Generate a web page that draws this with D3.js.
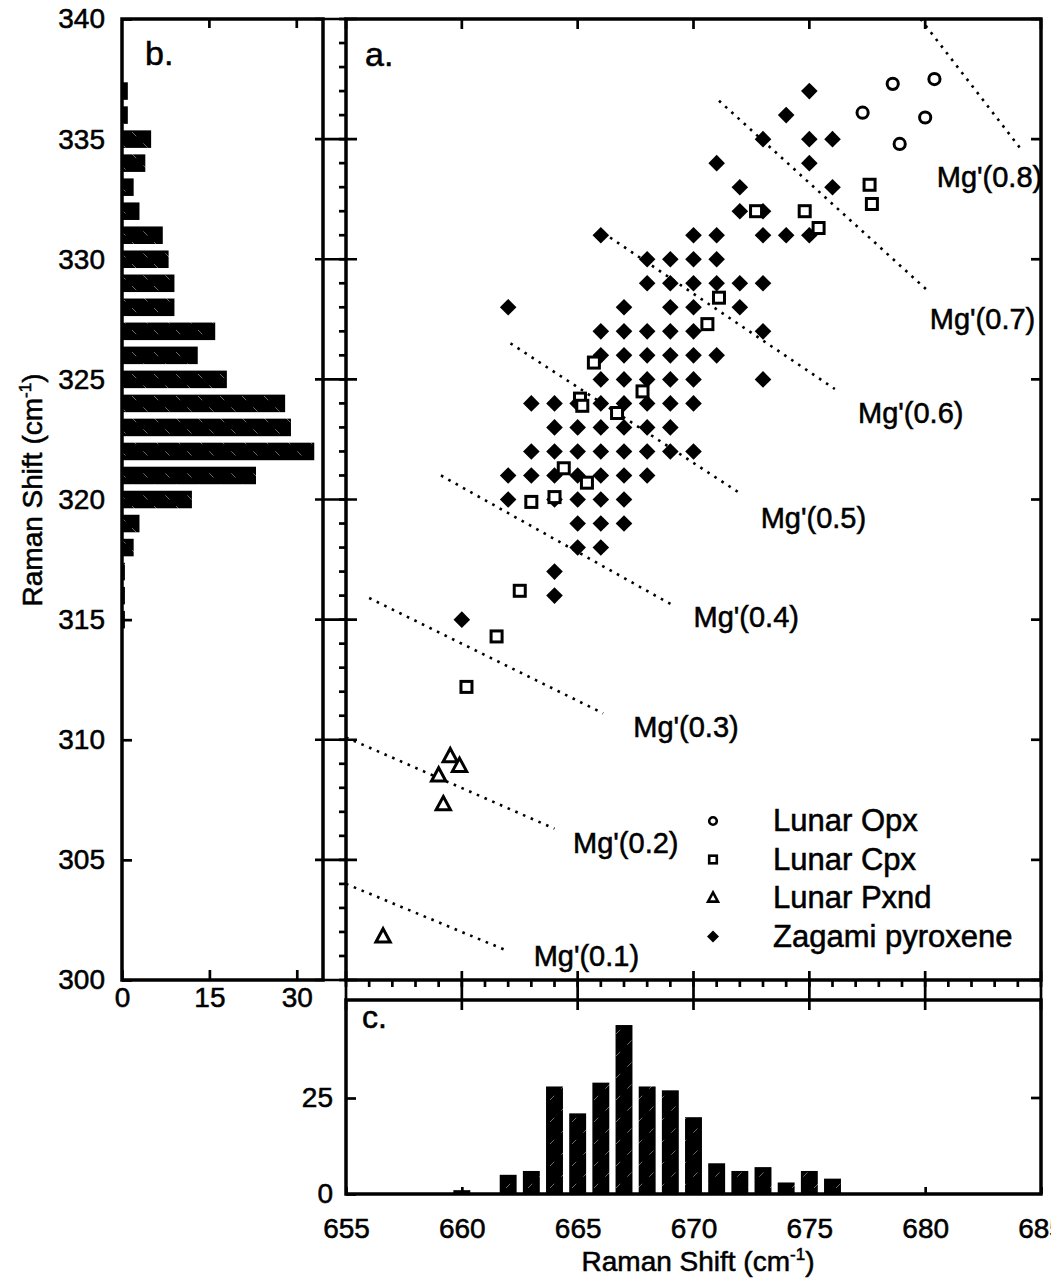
<!DOCTYPE html>
<html>
<head>
<meta charset="utf-8">
<script src="https://cdn.jsdelivr.net/npm/d3@7"></script>
<style>
  body { margin: 0; background: #fff; }
  svg { display: block; }
  text { stroke: #000; stroke-width: 0.55px; }
</style>
</head>
<body>
<div id="chart"></div>
<script>
// Zagami pyroxene grid: one entry per 320-band value, with the 670-band values found at it
const zagamiY = [315, 316, 317, 318, 319, 320, 321, 322, 323, 324, 325, 326,
                 327, 328, 329, 330, 331, 332, 333, 334, 335, 336, 337];
const zagamiX = [
  [660], [664], [664], [665, 666], [665, 666, 667],
  [662, 664, 665, 666, 667],
  [662, 663, 664, 665, 666, 667, 668],
  [663, 664, 665, 666, 667, 668, 669, 670],
  [664, 665, 666, 667, 668, 669],
  [663, 664, 665, 666, 667, 668, 669, 670],
  [666, 667, 668, 669, 670, 673],
  [666, 667, 668, 669, 670, 671],
  [666, 667, 668, 669, 670, 673],
  [662, 667, 669, 670, 672],
  [668, 669, 670, 671, 672, 673],
  [668, 669, 670, 671],
  [666, 670, 671, 673, 674, 675],
  [672, 673], [672, 676], [671, 675], [673, 675, 676], [674], [675]
];

const opxX = [678.6, 680.4, 677.3, 680.0, 678.9];
const opxY = [337.3, 337.5, 336.1, 335.9, 334.8];

const cpxX = [677.6, 677.7, 672.7, 674.8, 675.4, 671.1, 670.6, 665.7, 665.1, 665.2,
              667.8, 666.7, 664.4, 665.4, 663.0, 664.0, 662.5, 661.5, 660.2];
const cpxY = [333.1, 332.3, 332.0, 332.0, 331.3, 328.4, 327.3, 325.7, 324.2, 323.9,
              324.5, 323.6, 321.3, 320.7, 319.9, 320.1, 316.2, 314.3, 312.2];

const pxndX = [659.5, 659.9, 659.0, 659.2, 656.6];
const pxndY = [309.3, 308.9, 308.5, 307.3, 301.8];

// histogram b (320 band) and c (670 band)
const histBShift = [315, 316, 317, 318, 319, 320, 321, 322, 323, 324, 325, 326,
                    327, 328, 329, 330, 331, 332, 333, 334, 335, 336, 337];
const histBCount = [0.5, 0.5, 0.5, 2, 3, 12, 23, 33, 29, 28, 18, 13,
                    16, 9, 9, 8, 7, 3, 2, 4, 5, 1, 1];
const histCShift = [660, 662, 663, 664, 665, 666, 667, 668, 669, 670, 671, 672, 673, 674, 675, 676];
const histCCount = [1, 5, 6, 28, 21, 29, 44, 28, 27, 20, 8, 6, 7, 3, 6, 4];

// Mg' iso-lines
const mgLabels = ["Mg'(0.1)", "Mg'(0.2)", "Mg'(0.3)", "Mg'(0.4)", "Mg'(0.5)", "Mg'(0.6)", "Mg'(0.7)", "Mg'(0.8)"];
const mgStart = [[655.0, 304.0], [655.0, 310.1], [656.0, 315.9], [659.1, 321.0],
                 [662.1, 326.5], [666.1, 331.1], [671.1, 336.6], [679.8, 340.0]];
const mgEnd = [[662.0, 301.2], [664.0, 306.3], [666.1, 311.1], [669.1, 315.6],
               [672.1, 320.2], [676.1, 324.6], [680.1, 328.7], [684.2, 334.5]];
const mgLabelAt = [[663.1, 300.6], [664.8, 305.3], [667.4, 310.1], [670.0, 314.7],
                   [672.9, 318.8], [677.1, 323.2], [680.2, 327.1], [680.5, 333.0]];

const legendNames = ["Lunar Opx", "Lunar Cpx", "Lunar Pxnd", "Zagami pyroxene"];

const xMajor = d3.range(655, 686, 5);
const xMinor = d3.range(655, 686, 1);
const yMajor = d3.range(300, 341, 5);
const yMinor = d3.range(300, 341, 1);
const bTicks = [0, 15, 30];
const cTicks = [0, 25];

const FONT = "'Liberation Sans', Arial, Helvetica, sans-serif";
const W = 1051, H = 1279;

const main = {left: 346, right: 1041, top: 19, bottom: 980};
const panelB = {left: 122, right: 323};
const panelC = {top: 1000, bottom: 1194};

const x = d3.scaleLinear().domain([655, 685]).range([main.left, main.right]);
const y = d3.scaleLinear().domain([300, 340]).range([main.bottom, main.top]);
const xb = d3.scaleLinear().domain([0, 34.5]).range([panelB.left, panelB.right]);
const yc = d3.scaleLinear().domain([0, 50]).range([panelC.bottom, panelC.top + 2]);

const svg = d3.select("#chart").append("svg")
  .attr("width", W).attr("height", H)
  .attr("font-family", FONT);

const defs = svg.append("defs");
function hatch(id, dir) {
  const p = defs.append("pattern").attr("id", id)
    .attr("patternUnits", "userSpaceOnUse").attr("width", 22).attr("height", 22);
  p.append("rect").attr("width", 22).attr("height", 22).attr("fill", "#000");
  p.append("line")
    .attr("x1", 0).attr("y1", dir > 0 ? 22 : 0).attr("x2", 22).attr("y2", dir > 0 ? 0 : 22)
    .attr("stroke", "#fff").attr("stroke-width", 0.6).attr("stroke-dasharray", "6,10").attr("opacity", 0.7);
}
hatch("hatchB", -1);
hatch("hatchC", 1);

const tickW = 2.7;
function tickLine(x1, y1, x2, y2) {
  svg.append("line").attr("x1", x1).attr("y1", y1).attr("x2", x2).attr("y2", y2)
    .attr("stroke", "#000").attr("stroke-width", tickW);
}

function styleAxis(g, size) {
  g.select(".domain").remove();
  g.selectAll(".tick line").attr("stroke", "#000").attr("stroke-width", tickW);
  g.selectAll(".tick text").attr("fill", "#000").attr("font-size", size).attr("font-family", FONT);
}

// ---------- panel b: histogram of 320 band ----------
const bandB = 0.73;
svg.append("g").selectAll("rect")
  .data(histBShift.map((s, i) => ({s, c: histBCount[i]})))
  .enter().append("rect")
  .attr("x", xb(0))
  .attr("y", d => y(d.s + bandB / 2))
  .attr("width", d => xb(d.c) - xb(0))
  .attr("height", d => y(d.s - bandB / 2) - y(d.s + bandB / 2))
  .attr("fill", "url(#hatchB)");

svg.append("g")
  .attr("transform", `translate(${panelB.left},0)`)
  .call(d3.axisLeft(y).tickValues(yMajor).tickSize(-10).tickPadding(17).tickFormat(d3.format("d")))
  .call(g => styleAxis(g, 28));

svg.append("g")
  .attr("transform", `translate(0,${main.bottom})`)
  .call(d3.axisBottom(xb).tickValues(bTicks).tickSize(-10).tickPadding(7))
  .call(g => styleAxis(g, 28));

bTicks.filter(d => d > 0).forEach(d => tickLine(xb(d), main.top, xb(d), main.top + 9));

svg.append("rect")
  .attr("x", panelB.left).attr("y", main.top)
  .attr("width", panelB.right - panelB.left).attr("height", main.bottom - main.top)
  .attr("fill", "none").attr("stroke", "#000").attr("stroke-width", 3.5);

svg.append("text").attr("x", 145).attr("y", 65).attr("font-size", 34).text("b.");

// ---------- panel a: scatter ----------
yMinor.forEach(d => tickLine(main.left - 7, y(d), main.left, y(d)));
yMajor.forEach(d => tickLine(main.left - 31, y(d), main.left + 11, y(d)));
yMajor.forEach(d => tickLine(main.right - 10, y(d), main.right, y(d)));
xMinor.forEach(d => tickLine(x(d), main.bottom, x(d), main.bottom + 7));
xMajor.forEach(d => tickLine(x(d), main.bottom - 9, x(d), panelC.top + 10));
xMajor.forEach(d => tickLine(x(d), main.top, x(d), main.top + 10));

svg.append("g").selectAll("line")
  .data(mgStart.map((s, i) => ({s, e: mgEnd[i]})))
  .enter().append("line")
  .attr("x1", d => x(d.s[0])).attr("y1", d => y(d.s[1]))
  .attr("x2", d => x(d.e[0])).attr("y2", d => y(d.e[1]))
  .attr("stroke", "#000").attr("stroke-width", 2.6).attr("stroke-dasharray", "2.6,5.8");

svg.append("g").selectAll("text")
  .data(mgLabels.map((t, i) => ({t, p: mgLabelAt[i]})))
  .enter().append("text")
  .attr("x", d => x(d.p[0])).attr("y", d => y(d.p[1]))
  .attr("font-size", 29)
  .text(d => d.t);

const diamond = r => `M0,${-r}L${r},0L0,${r}L${-r},0Z`;
const triangle = s => `M0,${-s * 0.62}L${s * 0.55},${s * 0.4}L${-s * 0.55},${s * 0.4}Z`;

const zagami = zagamiY.flatMap((v, i) => zagamiX[i].map(u => [u, v]));
svg.append("g").selectAll("path")
  .data(zagami).enter().append("path")
  .attr("transform", d => `translate(${x(d[0])},${y(d[1])})`)
  .attr("d", diamond(8.3))
  .attr("fill", "#000");

svg.append("g").selectAll("rect")
  .data(cpxX.map((u, i) => [u, cpxY[i]])).enter().append("rect")
  .attr("x", d => x(d[0]) - 5.5).attr("y", d => y(d[1]) - 5.5)
  .attr("width", 11).attr("height", 11)
  .attr("fill", "#fff").attr("stroke", "#000").attr("stroke-width", 3);

svg.append("g").selectAll("circle")
  .data(opxX.map((u, i) => [u, opxY[i]])).enter().append("circle")
  .attr("cx", d => x(d[0])).attr("cy", d => y(d[1])).attr("r", 5.6)
  .attr("fill", "#fff").attr("stroke", "#000").attr("stroke-width", 3);

svg.append("g").selectAll("path")
  .data(pxndX.map((u, i) => [u, pxndY[i]])).enter().append("path")
  .attr("transform", d => `translate(${x(d[0])},${y(d[1])})`)
  .attr("d", triangle(13))
  .attr("fill", "#fff").attr("stroke", "#000").attr("stroke-width", 3).attr("stroke-linejoin", "miter");

// legend
const legend = svg.append("g").attr("transform", "translate(713,0)");
legendNames.forEach((name, i) => {
  const cy = 821 + i * 38.5;
  const g = legend.append("g").attr("transform", `translate(0,${cy})`);
  if (i === 0) g.append("circle").attr("r", 3.8).attr("fill", "#fff").attr("stroke", "#000").attr("stroke-width", 2.6);
  if (i === 1) g.append("rect").attr("x", -3.8).attr("y", -3.8).attr("width", 7.6).attr("height", 7.6)
    .attr("fill", "#fff").attr("stroke", "#000").attr("stroke-width", 2.6);
  if (i === 2) g.append("path").attr("d", triangle(9)).attr("fill", "#fff").attr("stroke", "#000").attr("stroke-width", 2.6);
  if (i === 3) g.append("path").attr("d", diamond(6)).attr("fill", "#000");
  legend.append("text").attr("x", 60).attr("y", cy + 10).attr("font-size", 31).text(name);
});

svg.append("rect")
  .attr("x", main.left).attr("y", main.top)
  .attr("width", main.right - main.left).attr("height", main.bottom - main.top)
  .attr("fill", "none").attr("stroke", "#000").attr("stroke-width", 3.5);

svg.append("text").attr("x", 365).attr("y", 66).attr("font-size", 34).text("a.");

// ---------- panel c: histogram of 670 band ----------
const bandC = 0.73;
svg.append("g").selectAll("rect")
  .data(histCShift.map((s, i) => ({s, c: histCCount[i]})))
  .enter().append("rect")
  .attr("x", d => x(d.s - bandC / 2))
  .attr("y", d => yc(d.c))
  .attr("width", d => x(d.s + bandC / 2) - x(d.s - bandC / 2))
  .attr("height", d => yc(0) - yc(d.c))
  .attr("fill", "url(#hatchC)");

svg.append("g")
  .attr("transform", `translate(0,${panelC.bottom})`)
  .call(d3.axisBottom(x).tickValues(xMajor).tickSize(-7).tickPadding(24).tickFormat(d3.format("d")))
  .call(g => styleAxis(g, 28));

svg.append("g")
  .attr("transform", `translate(${main.left},0)`)
  .call(d3.axisLeft(yc).tickValues(cTicks).tickSize(-10).tickPadding(13))
  .call(g => styleAxis(g, 28));

cTicks.filter(d => d > 0).forEach(d => tickLine(main.right - 10, yc(d), main.right, yc(d)));

svg.append("rect")
  .attr("x", main.left).attr("y", panelC.top)
  .attr("width", main.right - main.left).attr("height", panelC.bottom - panelC.top)
  .attr("fill", "none").attr("stroke", "#000").attr("stroke-width", 3.5);

svg.append("text").attr("x", 362).attr("y", 1028).attr("font-size", 32).text("c.");

// ---------- axis titles ----------
function title(sel) {
  sel.attr("font-size", 28).attr("text-anchor", "middle");
  sel.append("tspan").text("Raman Shift (cm");
  sel.append("tspan").attr("font-size", 17).attr("dy", -11).text("-1");
  sel.append("tspan").attr("dy", 11).text(")");
}
svg.append("text").attr("x", 698).attr("y", 1271).call(title);
svg.append("text").attr("transform", "translate(42,490) rotate(-90)").call(title);
</script>
</body>
</html>
